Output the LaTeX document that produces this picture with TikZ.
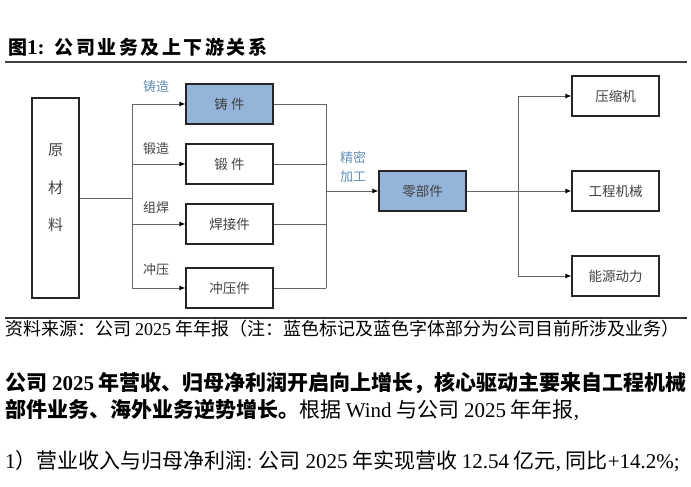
\documentclass[tikz,border=0pt]{standalone}
\usepackage{fontspec}
\setmainfont{Noto Sans CJK SC}
\newfontfamily\lat{Liberation Serif}
\usetikzlibrary{arrows.meta}
\definecolor{partblue}{RGB}{149,180,218}
\definecolor{labelblue}{RGB}{98,142,186}
\definecolor{boxtext}{RGB}{64,64,64}
\newcommand\tsp{\hspace{2.5pt}}

\begin{document}
\begin{tikzpicture}[x=1pt,y=-1pt,
  box/.style={draw=black!85,line width=1.3pt,minimum width=87pt,minimum height=40pt,inner sep=0pt,text=boxtext,font=\fontsize{13.5}{16}\selectfont},
  partbox/.style={box,fill=partblue},
  conn/.style={draw=black!60,line width=0.9pt},
  feed/.style={conn,-{Latex[length=6pt,width=5pt,color=black]}},
  proc/.style={text=boxtext,font=\fontsize{13}{16}\selectfont,inner sep=0pt},
  hl/.style={text=labelblue},
  body/.style={anchor=west,inner sep=0pt,font=\fontsize{21}{24}\selectfont}]
  \useasboundingbox (0,0) rectangle (691,487);
  % caption
  \node[anchor=west,inner sep=0pt,font=\fontsize{19}{21}\selectfont\bfseries] (title) at (8,47) {图{\lat\fontsize{21}{21}\selectfont 1:}\hspace{10pt}公\tsp 司\tsp 业\tsp 务\tsp 及\tsp 上\tsp 下\tsp 游\tsp 关\tsp 系};
  \draw[black!75,line width=2pt] (5,62) -- (687,62);
  % upstream
  \node[box,minimum width=47pt,minimum height=200pt] (raw) at (55.5,198) {};
  \node[proc,font=\fontsize{15}{37.5}\selectfont,align=center] (rawtext) at (55.5,188) {原\\材\\料};
  \node[partbox] (zhu) at (229.5,104) {铸\ 件};
  \node[box] (duan) at (229.5,164) {锻\ 件};
  \node[box] (han) at (229.5,224) {焊接件};
  \node[box] (chong) at (229.5,288) {冲压件};
  \node[proc,hl] (zhuzao) at (156,87) {铸造};
  \node[proc] (duanzao) at (156,149) {锻造};
  \node[proc] (zuhan) at (156,208) {组焊};
  \node[proc] (chongya) at (156,270) {冲压};
  \coordinate (split) at (132,198);
  \draw[conn] (raw) -- (split);
  \draw[conn] (split |- zhu) -- (split |- chong);
  \draw[feed] (split |- zhu) -- (zhu);
  \draw[feed] (split |- duan) -- (duan);
  \draw[feed] (split |- han) -- (han);
  \draw[feed] (split |- chong) -- (chong);
  % parts
  \node[partbox] (ling) at (422.5,191) {零部件};
  \node[proc,hl,align=center,font=\fontsize{13}{19}\selectfont] (jingmi) at (353,167) {精密\\加工};
  \coordinate (merge) at (326,191);
  \draw[conn] (zhu) -- (merge |- zhu);
  \draw[conn] (duan) -- (merge |- duan);
  \draw[conn] (han) -- (merge |- han);
  \draw[conn] (chong) -- (merge |- chong);
  \draw[conn] (merge |- zhu) -- (merge |- chong);
  \draw[feed] (merge) -- (ling);
  % downstream
  \node[box] (yasuo) at (615.5,96) {压缩机};
  \node[box] (gongcheng) at (615.5,191) {工程机械};
  \node[box] (nengyuan) at (615.5,276) {能源动力};
  \coordinate (fan) at (518,191);
  \draw[conn] (ling) -- (fan);
  \draw[conn] (fan |- yasuo) -- (fan |- nengyuan);
  \draw[feed] (fan |- yasuo) -- (yasuo);
  \draw[feed] (fan) -- (gongcheng);
  \draw[feed] (fan |- nengyuan) -- (nengyuan);
  \draw[black!80,line width=1.5pt] (5,318) -- (687,318);
  \node[anchor=west,inner sep=0pt,font=\fontsize{18}{20}\selectfont] (source) at (5,329) {资料来源：公司 {\lat 2025} 年年报（注：蓝色标记及蓝色字体部分为公司目前所涉及业务）};
  % text
  \node[body,font=\fontsize{21}{24}\selectfont\bfseries] (lead) at (5,383) {公司 {\lat 2025} 年营收、归母净利润开启向上增长，核心驱动主要来自工程机械};
  \node[body] (leadmore) at (5,410) {{\bfseries 部件业务、海外业务逆势增长。}根据 {\lat Wind} 与公司 {\lat 2025} 年年报{\lat ,}};
  \node[body] (revenue) at (5,461) {{\lat 1}）营业收入与归母净利润{\lat :} 公司 {\lat 2025} 年实现营收 {\lat 12.54} 亿元{\lat ,} 同比{\lat +14.2\%;}};
\end{tikzpicture}
\end{document}
